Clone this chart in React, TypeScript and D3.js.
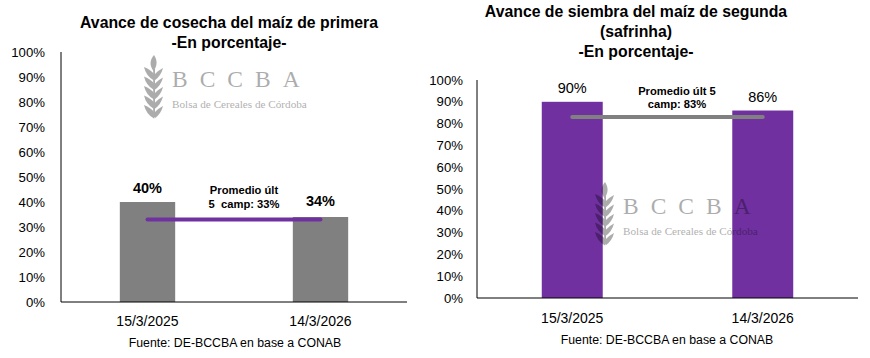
import React from "react";
import * as d3 from "d3";

const categories = ["15/3/2025", "14/3/2026"];
const harvestValues = [0.4, 0.34];
const harvestAvg = 0.33;
const sowingValues = [0.9, 0.86];
const sowingAvg = 0.83;
const yTicks = [0, 0.1, 0.2, 0.3, 0.4, 0.5, 0.6, 0.7, 0.8, 0.9, 1.0];
const titleLeft = ["Avance de cosecha del maíz de primera", "-En porcentaje-"];
const titleRight = ["Avance de siembra del maíz de segunda", "(safrinha)", "-En porcentaje-"];
const avgLabelLeft = ["Promedio últ", "5  camp: 33%"];
const avgLabelRight = ["Promedio últ 5", "camp: 83%"];
const source = "Fuente: DE-BCCBA en base a CONAB";

const FONT = "'Liberation Sans', Arial, sans-serif";
const SERIF = "'Liberation Serif', 'DejaVu Serif', serif";
const PURPLE = "#7030A0";
const GRAY = "#808080";

function Logo({ x, y }: { x: number; y: number }) {
  // x,y = top-left of wheat icon
  const leaves = [0, 1, 2, 3, 4];
  return (
    <g transform={`translate(${x},${y})`} opacity={0.32} fill="#000">
      <path d="M9,0 C4.5,5 4.5,11 8.5,16 C12.5,11 12.5,5 9,0 Z" />
      <rect x={8.2} y={14} width={1.8} height={48} />
      {leaves.map((i) => {
        const y0 = 12 + i * 9.5;
        return (
          <g key={i}>
            <path d={`M-1,${y0} Q6,${y0 + 3} 9,${y0 + 7} L9,${y0 + 13.5} Q1,${y0 + 9} -1,${y0} Z`} />
            <path d={`M18,${y0 + 1} Q13,${y0 + 3.5} 9.5,${y0 + 7.5} L9.5,${y0 + 13.5} Q16,${y0 + 9} 18,${y0 + 1} Z`} />
          </g>
        );
      })}
      <text x={27} y={32} fontFamily={SERIF} fontSize={23.5} letterSpacing={12}>
        BCCBA
      </text>
      <text x={27} y={52.5} fontFamily={SERIF} fontSize={11.2}>
        Bolsa de Cereales de Córdoba
      </text>
    </g>
  );
}

type ChartProps = {
  x0: number;
  x1: number;
  yTop: number;
  yBase: number;
  values: number[];
  avg: number;
  barColor: string;
  avgColor: string;
  valueBold: boolean;
  valueOffsets: number[];
  avgLabel: string[];
  avgLabelX: number;
  avgLabelY: number;
  title: string[];
  titleX: number;
  titleY: number;
  tickRight: number;
  xLabelY: number;
  sourceX: number;
  sourceY: number;
  logo: { x: number; y: number };
  logoOnTop: boolean;
};

function Chart(p: ChartProps) {
  const y = d3.scaleLinear().domain([0, 1]).range([p.yBase, p.yTop]);
  const xb = d3.scaleBand<string>().domain(categories).range([p.x0, p.x1]).padding(0);
  const bw = xb.bandwidth() * 0.32;
  const cx = (c: string) => (xb(c) as number) + xb.bandwidth() / 2;
  const logo = <Logo x={p.logo.x} y={p.logo.y} />;
  return (
    <g>
      {p.title.map((t, i) => (
        <text key={i} x={p.titleX} y={p.titleY + i * 20} textAnchor="middle" fontFamily={FONT} fontWeight="bold" fontSize={15.8} fill="#000">
          {t}
        </text>
      ))}
      {yTicks.map((t) => (
        <text key={t} x={p.tickRight} y={y(t)} dy="0.35em" textAnchor="end" fontFamily={FONT} fontSize={13.2} fill="#000">
          {d3.format(".0%")(t)}
        </text>
      ))}
      {!p.logoOnTop && logo}
      {categories.map((c, i) => (
        <rect key={c} x={cx(c) - bw / 2} y={y(p.values[i])} width={bw} height={p.yBase - y(p.values[i])} fill={p.barColor} />
      ))}
      <line x1={cx(categories[0])} x2={cx(categories[1])} y1={y(p.avg)} y2={y(p.avg)} stroke={p.avgColor} strokeWidth={4} strokeLinecap="round" />
      {categories.map((c, i) => (
        <text key={c} x={cx(c)} y={y(p.values[i]) - p.valueOffsets[i]} textAnchor="middle" fontFamily={FONT} fontWeight={p.valueBold ? "bold" : "normal"} fontSize={14.5} fill="#000">
          {d3.format(".0%")(p.values[i])}
        </text>
      ))}
      {p.avgLabel.map((t, i) => (
        <text key={i} x={p.avgLabelX} y={p.avgLabelY + i * 13.5} textAnchor="middle" fontFamily={FONT} fontWeight="bold" fontSize={11.2} fill="#000" style={{ whiteSpace: "pre" }}>
          {t}
        </text>
      ))}
      <line x1={p.x0} x2={p.x0} y1={p.yTop} y2={p.yBase} stroke="#000" strokeWidth={1} />
      <line x1={p.x0} x2={p.x1} y1={p.yBase} y2={p.yBase} stroke="#000" strokeWidth={1} />
      {categories.map((c) => (
        <text key={c} x={cx(c)} y={p.xLabelY} textAnchor="middle" fontFamily={FONT} fontSize={14} fill="#000">
          {c}
        </text>
      ))}
      <text x={p.sourceX} y={p.sourceY} textAnchor="middle" fontFamily={FONT} fontSize={12.3} fill="#000">
        {source}
      </text>
      {p.logoOnTop && logo}
    </g>
  );
}

export default function App() {
  return (
    <svg width={870} height={358} style={{ position: "absolute", left: 0, top: 0, background: "#fff" }}>
      <rect width={870} height={358} fill="#fff" />
      <Chart
        x0={61}
        x1={407}
        yTop={52}
        yBase={302}
        values={harvestValues}
        avg={harvestAvg}
        barColor={GRAY}
        avgColor={PURPLE}
        valueBold={true}
        valueOffsets={[9, 11]}
        avgLabel={avgLabelLeft}
        avgLabelX={244}
        avgLabelY={194}
        title={titleLeft}
        titleX={229}
        titleY={28}
        tickRight={45}
        xLabelY={326}
        sourceX={235}
        sourceY={347}
        logo={{ x: 145, y: 55 }}
        logoOnTop={false}
      />
      <Chart
        x0={477}
        x1={858}
        yTop={80}
        yBase={298}
        values={sowingValues}
        avg={sowingAvg}
        barColor={PURPLE}
        avgColor={GRAY}
        valueBold={false}
        valueOffsets={[9, 8.5]}
        avgLabel={avgLabelRight}
        avgLabelX={677}
        avgLabelY={94.5}
        title={titleRight}
        titleX={636}
        titleY={17}
        tickRight={463}
        xLabelY={323}
        sourceX={667}
        sourceY={343.5}
        logo={{ x: 596, y: 182 }}
        logoOnTop={true}
      />
    </svg>
  );
}
